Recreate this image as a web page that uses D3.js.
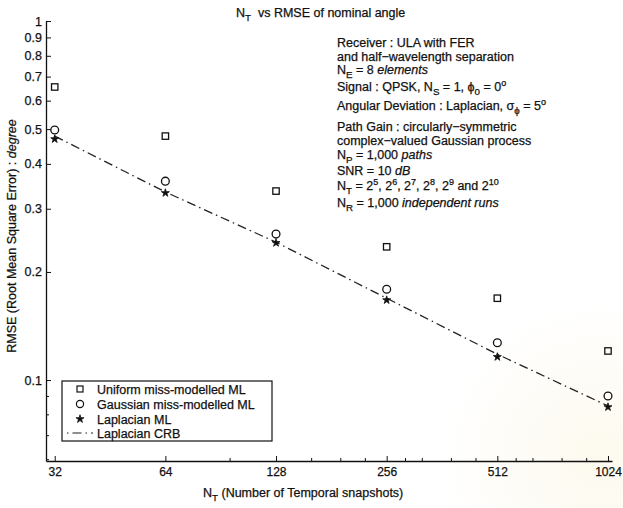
<!DOCTYPE html>
<html>
<head>
<meta charset="utf-8">
<script src="https://cdn.jsdelivr.net/npm/d3@7"></script>
<style>
  body { margin: 0; background: #fff; }
  svg { display: block; }
  text { font-family: "Liberation Sans", Arial, Helvetica, sans-serif; fill: #111; stroke: #111; stroke-width: 0.25px; white-space: pre; }
</style>
</head>
<body>
<svg id="chart" width="623" height="508"></svg>
<script>
// Number of temporal snapshots and RMSE (degree) per estimator
const snapshots    = [32, 64, 128, 256, 512, 1024];
const uniformML    = [0.655, 0.478, 0.336, 0.235, 0.169, 0.1205];
const gaussianML   = [0.497, 0.358, 0.255, 0.179, 0.127, 0.0903];
const laplacianML  = [0.469, 0.332, 0.241, 0.167, 0.116, 0.0841];
const laplacianCRB = [0.478, 0.334, 0.242, 0.169, 0.118, 0.0847];

// Axis ticks
const xTickValues = [32, 64, 128, 256, 512, 1024];
const xMinorTicks = [96, 160, 192, 224, 288, 320, 384, 448, 576, 640, 768, 896];
const yTickValues = [0.1, 0.2, 0.3, 0.4, 0.5, 0.6, 0.7, 0.8, 0.9, 1];
const yTickLabels = ["0.1", "0.2", "0.3", "0.4", "0.5", "0.6", "0.7", "0.8", "0.9", "1"];
const yMinorTicks = [0.06, 0.07, 0.08, 0.09];

const legendNames = ["Uniform miss-modelled ML", "Gaussian miss-modelled ML", "Laplacian ML", "Laplacian CRB"];

const svg = d3.select("#chart");
const W = 623, H = 508;
const FS = 12.5;

// faint emblem tint in the lower right corner
const defs = svg.append("defs");
const rg = defs.append("radialGradient").attr("id", "tint").attr("cx", "50%").attr("cy", "50%").attr("r", "50%");
rg.append("stop").attr("offset", "0%").attr("stop-color", "#f7ebc6").attr("stop-opacity", 0.3);
rg.append("stop").attr("offset", "100%").attr("stop-color", "#f7ebc6").attr("stop-opacity", 0);
svg.append("rect").attr("width", W).attr("height", H).attr("fill", "#fff");
svg.append("circle").attr("cx", 600).attr("cy", 460).attr("r", 160).attr("fill", "url(#tint)");

const plotLeft = 46, plotRight = 612, plotTop = 21, plotBottom = 461;

const x = d3.scaleLog().base(2).domain([30.3, 1050]).range([plotLeft, plotRight]);
const y = d3.scaleLog().base(10).domain([0.0595, 1]).range([plotBottom, plotTop]);

// rich text with sub/superscripts and italics
function rich(parent, px, py, parts, size = FS) {
  const t = parent.append("text").attr("x", px).attr("y", py).attr("font-size", size);
  let shift = 0;
  parts.forEach(p => {
    const [s, kind] = Array.isArray(p) ? p : [p, ""];
    let target = 0, fs = size;
    if (kind === "sub") { target = 4; fs = size * 0.78; }
    if (kind === "sup") { target = -5; fs = size * 0.72; }
    const ts = t.append("tspan").attr("dy", target - shift).attr("font-size", fs).text(s);
    if (kind === "it") ts.attr("font-style", "italic");
    shift = target;
  });
  return t;
}

// Axes
const xAxis = d3.axisBottom(x).tickValues(xTickValues).tickFormat(d3.format("d"))
  .tickSizeInner(-5).tickSizeOuter(0).tickPadding(6);
const gx = svg.append("g").attr("transform", `translate(0,${plotBottom})`).call(xAxis);
gx.selectAll("text").attr("font-size", 12).attr("font-family", null).attr("fill", "#111");
gx.select(".domain").attr("stroke", "#111").attr("stroke-width", 1.3);
gx.selectAll(".tick line").attr("stroke", "#111");
gx.selectAll(".minor").data(xMinorTicks).enter().append("line")
  .attr("x1", d => x(d)).attr("x2", d => x(d)).attr("y1", 0).attr("y2", -3)
  .attr("stroke", "#111");

const yAxis = d3.axisLeft(y).tickValues(yTickValues).tickFormat((d, i) => yTickLabels[i])
  .tickSizeInner(-5).tickSizeOuter(0).tickPadding(4);
const gy = svg.append("g").attr("transform", `translate(${plotLeft},0)`).call(yAxis);
gy.selectAll("text").attr("font-size", FS).attr("font-family", null).attr("fill", "#111");
gy.select(".domain").attr("stroke", "#111").attr("stroke-width", 1.3);
gy.selectAll(".tick line").attr("stroke", "#111");
gy.selectAll(".minor").data(yMinorTicks).enter().append("line")
  .attr("x1", 0).attr("x2", 3).attr("y1", d => y(d)).attr("y2", d => y(d))
  .attr("stroke", "#111");

// Laplacian CRB line
const crbPts = snapshots.map((n, i) => [n, laplacianCRB[i]]);
svg.append("path")
  .attr("d", d3.line().x(d => x(d[0])).y(d => y(d[1]))(crbPts))
  .attr("fill", "none").attr("stroke", "#222").attr("stroke-width", 1.3)
  .attr("stroke-dasharray", "9,4,1.5,4");

const star = d3.symbol().type(d3.symbolStar).size(20);

// Markers
svg.append("g").selectAll("rect").data(snapshots.map((n, i) => [n, uniformML[i]])).enter()
  .append("rect")
  .attr("x", d => x(d[0]) - 3.2).attr("y", d => y(d[1]) - 3.2)
  .attr("width", 6.4).attr("height", 6.4)
  .attr("fill", "none").attr("stroke", "#111").attr("stroke-width", 1.3);

svg.append("g").selectAll("circle").data(snapshots.map((n, i) => [n, gaussianML[i]])).enter()
  .append("circle")
  .attr("cx", d => x(d[0])).attr("cy", d => y(d[1])).attr("r", 3.9)
  .attr("fill", "none").attr("stroke", "#111").attr("stroke-width", 1.3);

svg.append("g").selectAll("path").data(snapshots.map((n, i) => [n, laplacianML[i]])).enter()
  .append("path")
  .attr("transform", d => `translate(${x(d[0])},${y(d[1])})`)
  .attr("d", star).attr("fill", "#111").attr("stroke", "#111").attr("stroke-width", 0.8);

// Title
rich(svg, 236, 17, ["N", ["T", "sub"], "  vs RMSE of nominal angle"]);

// Axis labels
rich(svg, 203, 497, ["N", ["T", "sub"], " (Number of Temporal snapshots)"]);
rich(svg.append("g").attr("transform", "translate(16,236) rotate(-90)"), 0, 0,
  ["RMSE (Root Mean Square Error) : ", ["degree", "it"]]).attr("text-anchor", "middle");

// Simulation settings
const ax = 337;
rich(svg, ax, 47, ["Receiver : ULA with FER"]);
rich(svg, ax, 61, ["and half\u2212wavelength separation"]);
rich(svg, ax, 74, ["N", ["E", "sub"], " = 8 ", ["elements", "it"]]);
rich(svg, ax, 91, ["Signal : QPSK, N", ["S", "sub"], " = 1, \u03d5", ["0", "sub"], " = 0", ["o", "sup"]]);
rich(svg, ax, 110, ["Angular Deviation : Laplacian, \u03c3", ["\u03d5", "sub"], " = 5", ["o", "sup"]]);
rich(svg, ax, 131, ["Path Gain : circularly\u2212symmetric"]);
rich(svg, ax, 145, ["complex\u2212valued Gaussian process"]);
rich(svg, ax, 159, ["N", ["P", "sub"], " = 1,000 ", ["paths", "it"]]);
rich(svg, ax, 175, ["SNR = 10 ", ["dB", "it"]]);
rich(svg, ax, 190, ["N", ["T", "sub"], " = 2", ["5", "sup"], ", 2", ["6", "sup"], ", 2", ["7", "sup"],
  ", 2", ["8", "sup"], ", 2", ["9", "sup"], " and 2", ["10", "sup"]]);
rich(svg, ax, 207, ["N", ["R", "sub"], " = 1,000 ", ["independent runs", "it"]]);

// Legend
const lg = svg.append("g");
lg.append("rect").attr("x", 62).attr("y", 381).attr("width", 210).attr("height", 60)
  .attr("fill", "#fff").attr("stroke", "#111").attr("stroke-width", 1.2);
const rowY = [389, 404, 419, 433];
const mx = 80;
lg.append("rect").attr("x", mx - 3).attr("y", rowY[0] - 3).attr("width", 6).attr("height", 6)
  .attr("fill", "none").attr("stroke", "#111").attr("stroke-width", 1.2);
lg.append("circle").attr("cx", mx).attr("cy", rowY[1]).attr("r", 3.6)
  .attr("fill", "none").attr("stroke", "#111").attr("stroke-width", 1.2);
lg.append("path").attr("transform", `translate(${mx},${rowY[2]})`).attr("d", star)
  .attr("fill", "#111").attr("stroke", "#111").attr("stroke-width", 0.8);
lg.append("line").attr("x1", 67).attr("x2", 93).attr("y1", rowY[3]).attr("y2", rowY[3])
  .attr("stroke", "#222").attr("stroke-width", 1.2).attr("stroke-dasharray", "1.5,4,9,4");
legendNames.forEach((nm, i) => {
  lg.append("text").attr("x", 97).attr("y", rowY[i] + 4.5).attr("font-size", FS).text(nm);
});
</script>
</body>
</html>
